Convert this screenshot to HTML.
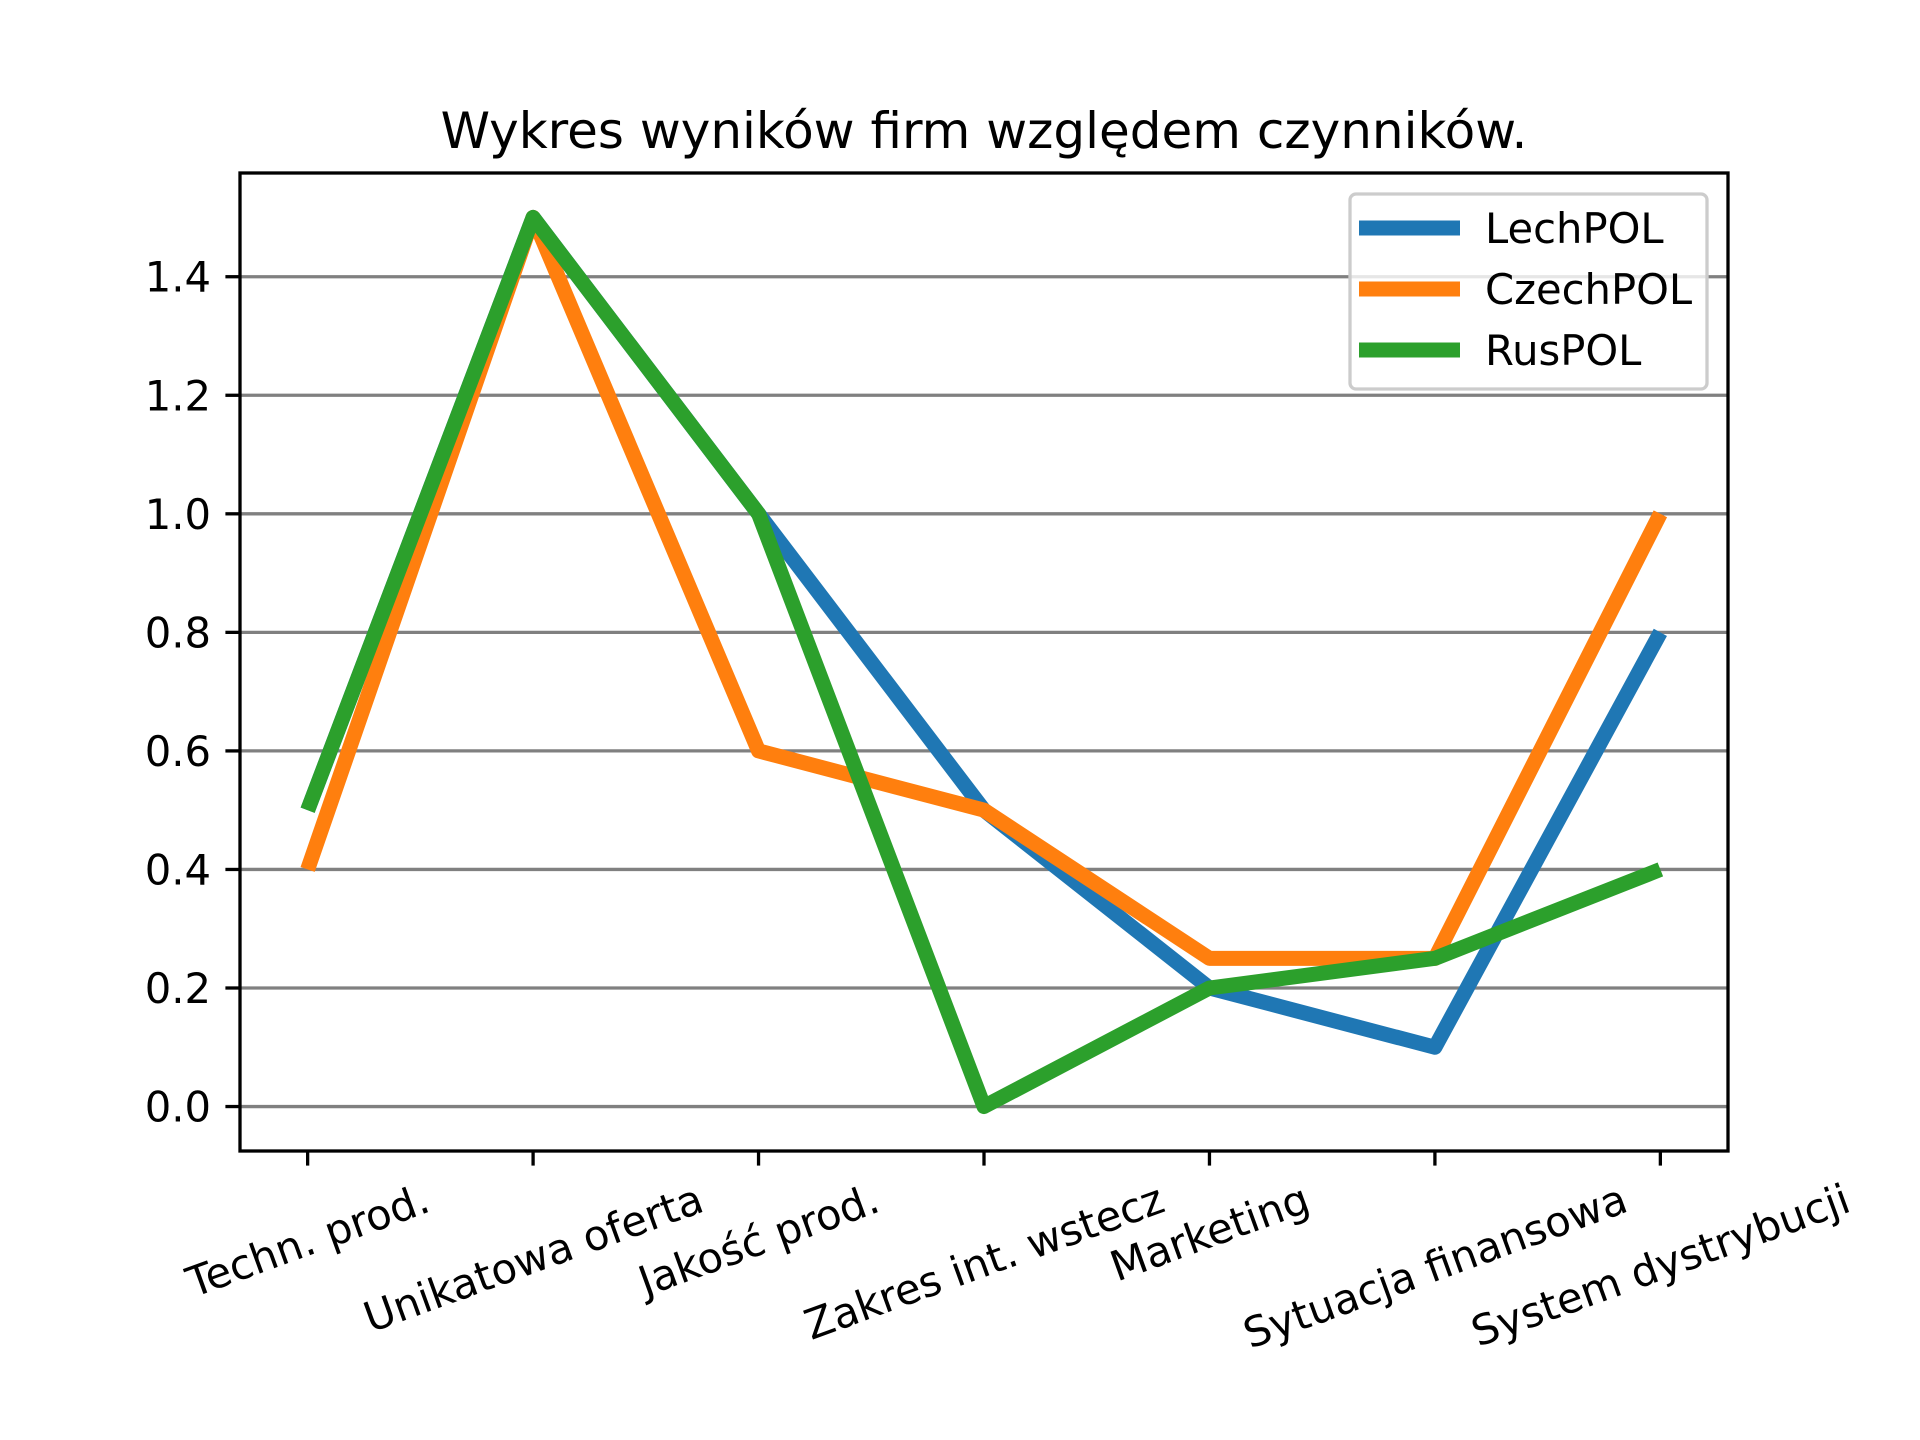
<!DOCTYPE html>
<html><head><meta charset="utf-8"><style>
html,body{margin:0;padding:0;background:#fff;}
svg{display:block;font-family:"DejaVu Sans","Liberation Sans",sans-serif;}
</style></head><body>
<svg id="chart" width="1920" height="1440" viewBox="0 0 1920 1440" xmlns="http://www.w3.org/2000/svg">
<rect width="1920" height="1440" fill="#fff"/>
<text x="984" y="148" font-size="50" text-anchor="middle" fill="#000">Wykres wyników firm względem czynników.</text>
<g id="grid"></g><g id="series"></g><g id="axes"></g><g id="legend"></g>
</svg>
<script>
const categories = ["Techn. prod.","Unikatowa oferta","Jakość prod.","Zakres int. wstecz","Marketing","Sytuacja finansowa","System dystrybucji"];
const lechpol = [0.5,1.5,1.0,0.5,0.2,0.1,0.8];
const czechpol = [0.4,1.5,0.6,0.5,0.25,0.25,1.0];
const ruspol = [0.5,1.5,1.0,0.0,0.2,0.25,0.4];
const seriesNames = ["LechPOL","CzechPOL","RusPOL"];
const yTicks = [0.0,0.2,0.4,0.6,0.8,1.0,1.2,1.4];

const NS="http://www.w3.org/2000/svg";
const L=240,R=1728,T=173,B=1151;
const ymin=-0.075,ymax=1.575;
const xs=i=>L+(i+0.3)/(categories.length-1+0.6)*(R-L);
const ys=v=>B-(v-ymin)/(ymax-ymin)*(B-T);
function mk(tag,attrs,parent){const e=document.createElementNS(NS,tag);for(const k in attrs)e.setAttribute(k,attrs[k]);parent.appendChild(e);return e;}
const grid=document.getElementById('grid'),ser=document.getElementById('series'),ax=document.getElementById('axes'),leg=document.getElementById('legend');
yTicks.forEach(v=>{
  const g=mk('line',{x1:L,x2:R,y1:ys(v),y2:ys(v),stroke:'#808080','stroke-width':3.3},grid);
  
  
  const t=mk('line',{x1:L-14.6,x2:L,y1:ys(v),y2:ys(v),stroke:'#000','stroke-width':3.3},ax);
  
  
  const tx=mk('text',{x:L-29,y:ys(v)+15,'font-size':41.7,'text-anchor':'end',fill:'#000'},ax);
  tx.textContent=v.toFixed(1);
  
  
});
const colors=['#1f77b4','#ff7f0e','#2ca02c'];
[lechpol,czechpol,ruspol].forEach((d,k)=>{
  const p=mk('polyline',{points:d.map((v,i)=>xs(i)+','+ys(v)).join(' '),fill:'none',stroke:colors[k],'stroke-width':15,'stroke-linejoin':'round','stroke-linecap':'butt'},ser);
  
  
});
const frame=mk('rect',{x:L,y:T,width:R-L,height:B-T,fill:'none',stroke:'#000','stroke-width':3.3},ax);


categories.forEach((c,i)=>{
  const t=mk('line',{x1:xs(i),x2:xs(i),y1:B,y2:B+14.6,stroke:'#000','stroke-width':3.3},ax);
  
  
  const tx=mk('text',{'font-size':41.7,'text-anchor':'middle',fill:'#000'},ax);
  tx.textContent=c;
  
  
  const w=tx.getComputedTextLength(),h=48;
  const a=20*Math.PI/180;
  const bh=w*Math.sin(a)+h*Math.cos(a);
  const cx=xs(i),cy=B+23+bh/2;
  tx.setAttribute('x',0);tx.setAttribute('y',15);
  tx.setAttribute('transform','translate('+cx+','+cy+') rotate(-20)');
});
const lb=mk('rect',{x:1350,y:194,width:357,height:195,rx:6,fill:'#fff','fill-opacity':0.8,stroke:'#ccc','stroke-width':3.3},leg);


seriesNames.forEach((n,k)=>{
  const y=228+k*61;
  const l=mk('line',{x1:1359,x2:1460,y1:y,y2:y,stroke:colors[k],'stroke-width':15},leg);
  
  
  const t=mk('text',{x:1485,y:y+15,'font-size':41.7,fill:'#000'},leg);
  t.textContent=n;
  
  
});
</script>
</body></html>
